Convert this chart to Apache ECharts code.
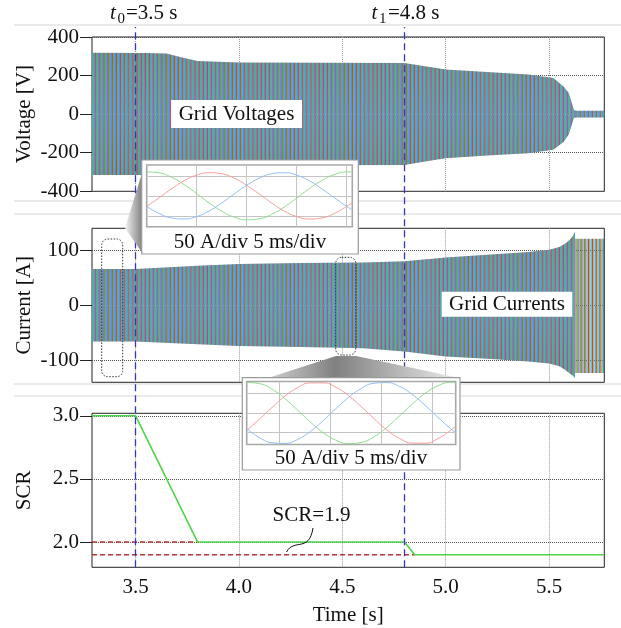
<!DOCTYPE html>
<html><head><meta charset="utf-8">
<script src="https://cdn.jsdelivr.net/npm/echarts@6/dist/echarts.min.js"></script>
<style>html,body{margin:0;padding:0;background:#fff}#c{width:621px;height:628px}</style>
</head><body><div id="c"></div>
<script>
const FONT = 'Liberation Serif';
// ---------------- data ----------------
const tMin = 3.289, tMax = 5.767;
const timeTicks = [3.5, 4.0, 4.5, 5.0, 5.5];
const currTicks = [-100, 0, 100];
const scrTicks = [2.0, 2.5, 3.0];
const eventTimes = [3.5, 4.8];

// grid voltage envelope (V)
const voltT     = [3.289, 3.55, 3.65, 3.72, 3.80, 4.00, 4.80, 4.90, 5.00, 5.20, 5.40, 5.52, 5.57, 5.595, 5.61, 5.62, 5.63, 5.767];
const voltUpper = [318, 317, 314, 295, 276, 268, 265, 248, 232, 218, 205, 187, 143, 110, 58, 22, 17, 17];
const voltLower = [-316, -315, -312, -293, -274, -266, -264, -245, -228, -215, -203, -185, -145, -105, -55, -20, -17, -17];

// grid current envelope (A)
const currT     = [3.289, 3.50, 3.80, 4.00, 4.30, 4.60, 4.80, 5.00, 5.20, 5.40, 5.50, 5.55, 5.58, 5.60, 5.615, 5.625];
const currUpper = [66, 66, 72, 75, 77, 78, 80, 87, 92, 97, 101, 106, 113, 119, 126, 134];
const currLower = [-66, -66, -71, -74, -76, -78, -84, -93, -97, -102, -106, -111, -118, -124, -128, -132];
const currTailT = [5.625, 5.767];
const currTailUpper = [121, 121];
const currTailLower = [-123, -123];

// SCR
const scrT   = [3.289, 3.5, 3.8, 4.8, 4.85, 5.767];
const scrVal = [3.0, 3.0, 2.0, 2.0, 1.9, 1.9];
const ref20T = [3.289, 3.8];   const ref20V = [2.0, 2.0];
const ref19T = [3.289, 4.85];  const ref19V = [1.9, 1.9];

// zoomed insets (time in ms, current in A)
const insetT = [0, 1.25, 2.5, 3.75, 5, 6.25, 7.5, 8.75, 10, 11.25, 12.5, 13.75, 15, 16.25, 17.5, 18.75, 20, 20.5];
const in1Green = [59.7, 57.3, 46.2, 28.1, 5.6, -17.6, -38.2, -53.0, -59.7, -57.3, -46.2, -28.1, -5.6, 17.6, 38.2, 53.0, 59.7, 59.9];
const in1Red   = [-26.3, -4.6, 17.9, 37.7, 51.7, 57.8, 55.2, 44.1, 26.3, 4.6, -17.9, -37.7, -51.7, -57.8, -55.2, -44.1, -26.3, -17.9];
const in1Blue  = [-26.3, -44.1, -55.2, -57.8, -51.7, -37.7, -17.9, 4.6, 26.3, 44.1, 55.2, 57.8, 51.7, 37.7, 17.9, -4.6, -26.3, -34.1];
const in2Green = [78.7, 75.5, 60.9, 37.0, 7.4, -23.2, -50.4, -69.8, -78.7, -75.5, -60.9, -37.0, -7.4, 23.2, 50.4, 69.8, 78.7, 78.8];
const in2Red   = [-44.4, -16.0, 14.8, 43.4, 65.3, 77.4, 77.6, 66.0, 44.4, 16.0, -14.8, -43.4, -65.3, -77.4, -77.6, -66.0, -44.4, -33.6];
const in2Blue  = [-40.2, -63.2, -76.5, -78.2, -68.0, -47.4, -19.7, 11.1, 40.2, 63.2, 76.5, 78.2, 68.0, 47.4, 19.7, -11.1, -40.2, -50.4];
const in1GridX = [5, 10, 15, 20];
const in2GridX = [3.2, 8.2, 13.2, 18.2];
const insetGridY = [-50, 0, 50];

// ---------------- styling helpers ----------------
function stripes(sparse) {
  const c = document.createElement('canvas');
  c.width = 207; c.height = 4;
  const g = c.getContext('2d');
  if (!sparse) { g.fillStyle = '#64a6f4'; g.fillRect(0, 0, 207, 4); }
  const P = 207 / 50;
  for (let k = 0; k < 50; k++) {
    const x = k * P;
    g.fillStyle = '#f2302c'; g.fillRect(x, 0, 1.1, 4);
    g.fillStyle = '#2ccc2c'; g.fillRect(x + 1.38, 0, 1.0, 4);
    g.fillStyle = sparse ? '#3a88ea' : '#4490ee'; g.fillRect(x + 2.76, 0, sparse ? 1.0 : 1.38, 4);
  }
  return c;
}
const patFull = { image: stripes(false), repeat: 'repeat' };
const patSparse = { image: stripes(true), repeat: 'repeat' };
function haze(toward) { // soft blue glow towards the zero line
  const a = 'rgba(120,180,250,0)', b = 'rgba(110,170,245,0.2)';
  return { type: 'linear', x: 0, y: 0, x2: 0, y2: 1, colorStops: toward === 'down'
    ? [{ offset: 0, color: a }, { offset: 1, color: b }]
    : [{ offset: 0, color: b }, { offset: 1, color: a }] };
}

// a band is drawn as two areas filled towards the zero line: upper envelope and lower envelope
function band(gi, T, lo, hi, fillHi, fillLo, z) {
  const base = { type: 'line', xAxisIndex: gi, yAxisIndex: gi, symbol: 'none',
    lineStyle: { width: 0, opacity: 0 }, silent: true, z: z };
  return [
    Object.assign({}, base, { data: T.map((t, i) => [t, hi[i]]), areaStyle: { color: fillHi, opacity: 1, origin: 0 } }),
    Object.assign({}, base, { data: T.map((t, i) => [t, lo[i]]), areaStyle: { color: fillLo, opacity: 1, origin: 0 } })
  ];
}
const txt = { color: '#111', fontFamily: FONT, fontSize: 21 };

function mainX(gi, labels) {
  return { type: 'value', gridIndex: gi, min: tMin, max: tMax,
    axisLine: { show: false },
    axisTick: { show: false, customValues: timeTicks },
    axisLabel: { show: labels, customValues: timeTicks, formatter: v => v.toFixed(1), margin: 10, ...txt },
    splitLine: { show: true, lineStyle: { color: '#9a9a9a', type: 'dotted', width: 1 } },
    name: labels ? 'Time [s]' : '', nameLocation: 'middle', nameGap: 38, nameTextStyle: txt };
}
function mainY(gi, name, extra) {
  return Object.assign({ type: 'value', gridIndex: gi,
    axisLine: { show: false },
    axisTick: { show: true, inside: false, length: 12, lineStyle: { color: '#222', width: 1 } },
    axisLabel: { margin: 13, ...txt },
    splitLine: { show: true, lineStyle: { color: '#555', type: 'dotted', width: 1 } },
    name: name, nameLocation: 'middle', nameGap: 57, nameMoveOverlap: false, nameTextStyle: txt }, extra);
}
function insetAxes(gi, xmax, gx, ymax) {
  return [
    { type: 'value', gridIndex: gi, min: 0, max: xmax, z: 15,
      axisLine: { show: false }, axisLabel: { show: false },
      axisTick: { show: false, customValues: gx },
      splitLine: { show: true, lineStyle: { color: '#c4c4c4', width: 1 } } },
    { type: 'value', gridIndex: gi, min: -ymax, max: ymax, z: 15,
      axisLine: { show: false }, axisLabel: { show: false },
      axisTick: { show: false, customValues: insetGridY },
      splitLine: { show: true, lineStyle: { color: '#c4c4c4', width: 1 } } }
  ];
}
function wave(gi, vals, color) {
  return { type: 'line', xAxisIndex: gi, yAxisIndex: gi, data: insetT.map((t, i) => [t, vals[i]]),
    smooth: true, symbol: 'none', lineStyle: { color: color, width: 1 }, z: 16, silent: true };
}

const gridBorder = { show: true, borderColor: '#222', borderWidth: 1, backgroundColor: 'transparent' };
const L = 92, R = 16.7;

const [in1x, in1y] = insetAxes(4, 20.56, in1GridX, 77);
const [in2x, in2y] = insetAxes(5, 20.5, in2GridX, 81);

const option = {
  animation: false,
  grid: [
    { left: L, right: R, top: 37, height: 154.3, ...gridBorder },
    { left: L, right: R, top: 228.3, height: 154, ...gridBorder },
    { left: L, right: R, top: 413.3, height: 154, ...gridBorder },
    { left: L, right: R, top: 27, bottom: 60.7, show: false },
    { left: 146.7, top: 165, width: 205.6, height: 61.7, show: true, backgroundColor: '#fff', borderColor: '#a8a8a8', borderWidth: 1.6, z: 14 },
    { left: 246.7, top: 381.5, width: 209, height: 63, show: true, backgroundColor: '#fff', borderColor: '#a8a8a8', borderWidth: 1.6, z: 14 }
  ],
  xAxis: [
    mainX(0, false), mainX(1, false), mainX(2, true),
    { type: 'value', gridIndex: 3, min: tMin, max: tMax, show: false },
    in1x, in2x
  ],
  yAxis: [
    mainY(0, 'Voltage [V]', { min: -400, max: 400, interval: 200 }),
    mainY(1, 'Current [A]', { min: -140, max: 140,
      axisTick: { show: true, length: 12, customValues: currTicks, lineStyle: { color: '#222' } },
      axisLabel: { margin: 13, customValues: currTicks, ...txt } }),
    mainY(2, 'SCR', { min: 1.8, max: 3.02,
      axisTick: { show: true, length: 12, customValues: scrTicks, lineStyle: { color: '#222' } },
      axisLabel: { margin: 13, customValues: scrTicks, formatter: v => v.toFixed(1), ...txt } }),
    { type: 'value', gridIndex: 3, min: 0, max: 1, show: false },
    in1y, in2y
  ],
  series: [
    ...band(0, voltT, voltLower, voltUpper, patFull, patFull, 2),
    ...band(0, voltT, voltLower, voltUpper, haze('down'), haze('up'), 3),
    ...band(1, currT, currLower, currUpper, patFull, patFull, 2),
    ...band(1, currT, currLower, currUpper, haze('down'), haze('up'), 3),
    ...band(1, currTailT, currTailLower, currTailUpper, patSparse, patSparse, 2),
    { type: 'line', xAxisIndex: 2, yAxisIndex: 2, data: ref20T.map((t, i) => [t, ref20V[i]]), symbol: 'none',
      lineStyle: { color: '#b53434', width: 1.5, type: [5, 3] }, z: 3 },
    { type: 'line', xAxisIndex: 2, yAxisIndex: 2, data: ref19T.map((t, i) => [t, ref19V[i]]), symbol: 'none',
      lineStyle: { color: '#b53434', width: 1.5, type: [5, 3] }, z: 3 },
    { type: 'line', xAxisIndex: 2, yAxisIndex: 2, data: scrT.map((t, i) => [t, scrVal[i]]), symbol: 'none',
      lineStyle: { color: '#4fd54a', width: 1.6 }, z: 4 },
    { type: 'line', xAxisIndex: 3, yAxisIndex: 3, data: [], z: 5,
      markLine: { silent: true, symbol: ['none', 'none'], label: { show: false },
        lineStyle: { color: '#3434c6', type: [7, 4], width: 1.3 },
        data: eventTimes.map(t => ({ xAxis: t })) } },
    wave(4, in1Green, '#8edc8e'), wave(4, in1Red, '#fb9a9a'), wave(4, in1Blue, '#8fbdf5'),
    wave(5, in2Green, '#8edc8e'), wave(5, in2Red, '#fb9a9a'), wave(5, in2Blue, '#8fbdf5')
  ],
  graphic: [
    // figure separators
    ...[25, 201, 214, 384, 396].map(y => ({ type: 'line', z: 0, silent: true,
      shape: { x1: 14, y1: y, x2: 621, y2: y }, style: { stroke: '#d6d6d6', lineWidth: 1 } })),
    // event labels
    { type: 'text', z: 20, x: 110, y: 13, style: { text: 't', font: 'italic 21px "Liberation Serif"', fill: '#111', verticalAlign: 'middle' } },
    { type: 'text', z: 20, x: 117.5, y: 19, style: { text: '0', font: '15px "Liberation Serif"', fill: '#111', verticalAlign: 'middle' } },
    { type: 'text', z: 20, x: 126, y: 13, style: { text: '=3.5 s', font: '21px "Liberation Serif"', fill: '#111', verticalAlign: 'middle' } },
    { type: 'text', z: 20, x: 371.5, y: 13, style: { text: 't', font: 'italic 21px "Liberation Serif"', fill: '#111', verticalAlign: 'middle' } },
    { type: 'text', z: 20, x: 379, y: 19, style: { text: '1', font: '15px "Liberation Serif"', fill: '#111', verticalAlign: 'middle' } },
    { type: 'text', z: 20, x: 388, y: 13, style: { text: '=4.8 s', font: '21px "Liberation Serif"', fill: '#111', verticalAlign: 'middle' } },
    // panel labels
    { type: 'rect', z: 10, shape: { x: 171, y: 100, width: 131, height: 28 }, style: { fill: '#fff' } },
    { type: 'text', z: 11, x: 236.5, y: 114.5, style: { text: 'Grid Voltages', font: '21px "Liberation Serif"', fill: '#111', align: 'center', verticalAlign: 'middle' } },
    { type: 'rect', z: 10, shape: { x: 441.7, y: 291.7, width: 130.6, height: 25 }, style: { fill: '#fff' } },
    { type: 'text', z: 11, x: 507, y: 304.5, style: { text: 'Grid Currents', font: '21px "Liberation Serif"', fill: '#111', align: 'center', verticalAlign: 'middle' } },
    // zoom markers
    { type: 'rect', z: 10, shape: { x: 101.7, y: 239, width: 21, height: 137.7, r: 6 }, style: { fill: 'none', stroke: '#333', lineWidth: 1, lineDash: [1.5, 1.5] } },
    { type: 'rect', z: 10, shape: { x: 335.7, y: 257.3, width: 20, height: 97.7, r: 6 }, style: { fill: 'none', stroke: '#333', lineWidth: 1, lineDash: [1.5, 1.5] } },
    // funnels
    { type: 'polygon', z: 11, shape: { points: [[125, 228], [143, 170], [143, 254]] },
      style: { fill: { type: 'linear', x: 0, y: 0, x2: 1, y2: 0, colorStops: [{ offset: 0, color: '#f4f4f4' }, { offset: 1, color: '#7a7a7a' }] } } },
    { type: 'polygon', z: 11, shape: { points: [[336, 356], [356, 356], [460, 378], [268, 378]] },
      style: { fill: { type: 'linear', x: 0, y: 0, x2: 1, y2: 0, colorStops: [{ offset: 0, color: '#d0d0d0' }, { offset: 0.35, color: '#808080' }, { offset: 1, color: '#ececec' }] } } },
    // inset boxes
    { type: 'rect', z: 12, shape: { x: 141.7, y: 160, width: 216.6, height: 94 }, style: { fill: '#fff', stroke: '#9a9a9a', lineWidth: 1.2 } },
    { type: 'text', z: 13, x: 250, y: 242, style: { text: '50 A/div 5 ms/div', font: '21px "Liberation Serif"', fill: '#111', align: 'center', verticalAlign: 'middle' } },
    { type: 'rect', z: 12, shape: { x: 242.3, y: 377.7, width: 217.7, height: 92.3 }, style: { fill: '#fff', stroke: '#9a9a9a', lineWidth: 1.2 } },
    { type: 'text', z: 13, x: 351, y: 458, style: { text: '50 A/div 5 ms/div', font: '21px "Liberation Serif"', fill: '#111', align: 'center', verticalAlign: 'middle' } },
    // SCR annotation
    { type: 'text', z: 13, x: 311.5, y: 515, style: { text: 'SCR=1.9', font: '21px "Liberation Serif"', fill: '#111', align: 'center', verticalAlign: 'middle' } },
    { type: 'bezierCurve', z: 13, shape: { x1: 313, y1: 528, cpx1: 309, cpy1: 553, cpx2: 294, cpy2: 538, x2: 286.5, y2: 552 }, style: { stroke: '#111', lineWidth: 1, fill: 'none' } }
  ]
};
const chart = echarts.init(document.getElementById('c'), null, { renderer: 'canvas' });
chart.setOption(option);
</script></body></html>
